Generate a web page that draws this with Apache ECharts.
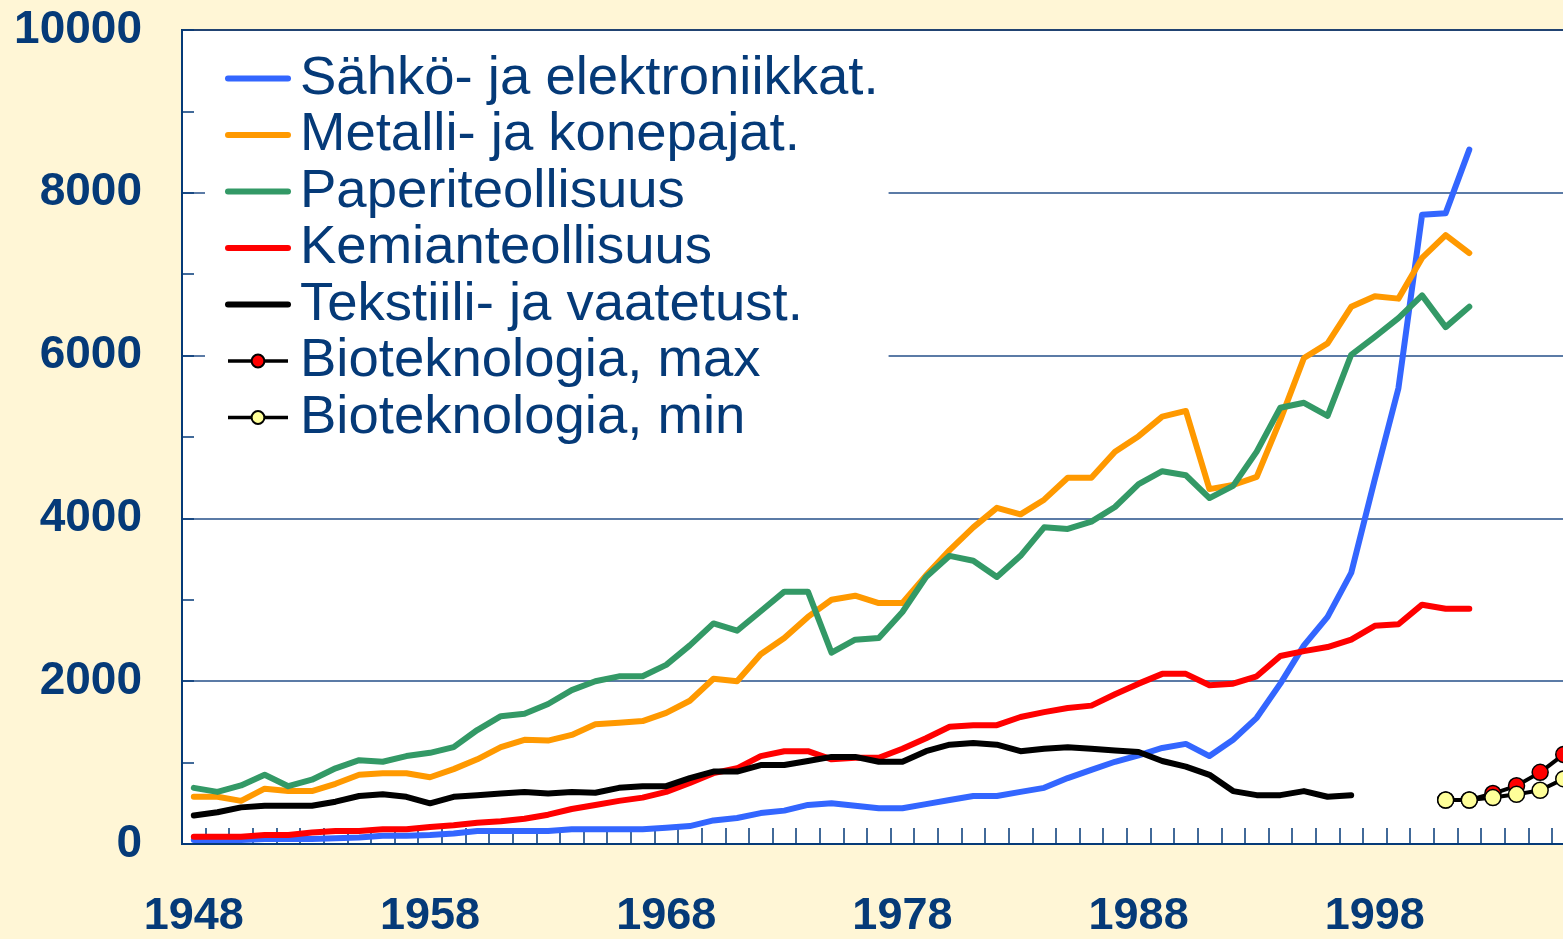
<!DOCTYPE html>
<html>
<head>
<meta charset="utf-8">
<script src="https://cdn.jsdelivr.net/npm/echarts@6/dist/echarts.min.js"></script>
<style>
  html, body { margin: 0; padding: 0; background: #fff6d6; }
  #chart { width: 1563px; height: 939px; }
</style>
</head>
<body>
<div id="chart"></div>
<script>
// years on the category axis (the plot runs past the right edge of the picture)
const years = []
for (let y = 1948; y <= 2007; y++) years.push(String(y))

const sahko = [50, 50, 50, 60, 60, 60, 70, 80, 100, 100,
  110, 130, 160, 160, 160, 160, 180, 180, 180, 180,
  200, 220, 290, 320, 380, 410, 480, 500, 470, 440,
  440, 490, 540, 590, 590, 640, 690, 810, 910, 1010,
  1090, 1180, 1230, 1080, 1280, 1550, 1970, 2440, 2790, 3330,
  4480, 5600, 7730, 7750, 8530]

const metalli = [580, 580, 530, 680, 650, 650, 740, 850, 870, 870,
  820, 920, 1040, 1190, 1280, 1270, 1340, 1470, 1490, 1510,
  1610, 1760, 2030, 2000, 2330, 2530, 2790, 3000, 3050, 2960,
  2960, 3300, 3610, 3890, 4130, 4050, 4230, 4500, 4500, 4820,
  5010, 5250, 5320, 4360, 4410, 4510, 5210, 5970, 6150, 6600,
  6730, 6700, 7200, 7480, 7260]

const paperi = [690, 640, 720, 850, 710, 790, 930, 1030, 1010, 1080,
  1120, 1190, 1400, 1570, 1600, 1720, 1890, 2000, 2060, 2060,
  2200, 2440, 2710, 2620, 2860, 3100, 3100, 2350, 2510, 2530,
  2850, 3280, 3540, 3480, 3280, 3540, 3890, 3870, 3960, 4140,
  4420, 4580, 4530, 4250, 4400, 4820, 5360, 5420, 5260, 6010,
  6230, 6460, 6740, 6350, 6600]

const kemia = [90, 90, 90, 110, 110, 140, 160, 160, 180, 180,
  210, 230, 260, 280, 310, 360, 430, 480, 530, 570,
  640, 750, 870, 930, 1080, 1140, 1140, 1040, 1060, 1060,
  1170, 1300, 1440, 1460, 1460, 1560, 1620, 1670, 1700, 1840,
  1970, 2090, 2090, 1950, 1970, 2060, 2310, 2370, 2420, 2510,
  2680, 2700, 2940, 2890, 2890]

const tekstiili = [350, 390, 450, 470, 470, 470, 520, 590, 610, 580,
  500, 580, 600, 620, 640, 620, 640, 630, 690, 710,
  710, 810, 890, 890, 970, 970, 1020, 1070, 1070, 1010,
  1010, 1140, 1220, 1240, 1220, 1140, 1170, 1190, 1170, 1150,
  1130, 1020, 950, 850, 650, 600, 600, 650, 580, 600]

// biotech starts 2001
const bioMax = [540, 540, 620, 715, 880, 1100]
const bioMin = [540, 540, 570, 610, 660, 800]

const bioStart = years.indexOf('2001')
function padFrom(start, arr) {
  const out = years.map(() => null)
  arr.forEach((v, i) => { out[start + i] = v })
  return out
}

const navy = '#053a78'
const font = '"Liberation Sans", Arial, sans-serif'

function lineSeries(name, data, color) {
  return {
    name, type: 'line', data,
    symbol: 'none',
    lineStyle: { color, width: 6, join: 'round', cap: 'round' },
    itemStyle: { color },
  }
}

function bioSeries(name, data, fill) {
  return {
    name, type: 'line', data: padFrom(bioStart, data),
    symbol: 'circle', symbolSize: 16, showAllSymbol: true,
    lineStyle: { color: '#000', width: 4 },
    itemStyle: { color: fill, borderColor: '#000', borderWidth: 1.5 },
  }
}

// legend entries: plain lines show no dot
function plainLegend(name) {
  return { name, itemStyle: { color: 'rgba(0,0,0,0)', borderWidth: 0, opacity: 0 }, lineStyle: { width: 6, cap: 'round' } }
}
function bioLegend(name) {
  return { name, lineStyle: { width: 3.5 } }
}

const chart = echarts.init(document.getElementById('chart'))
chart.setOption({
  animation: false,
  backgroundColor: '#fff6d6',
  grid: {
    left: 182, top: 30, bottom: 95, width: years.length * 23.62,
    outerBoundsMode: 'none', containLabel: false,
    show: true, backgroundColor: '#fff', borderColor: '#1b2233', borderWidth: 2,
  },
  legend: {
    orient: 'vertical', left: 205, top: 43,
    backgroundColor: '#fff',
    padding: [8, 10, 12, 20],
    itemWidth: 60, itemHeight: 16, itemGap: 1.5,
    textStyle: { fontFamily: font, fontSize: 54.5, color: navy, lineHeight: 50, padding: [0, 0, 0, 7] },
    data: [
      plainLegend('Sähkö- ja elektroniikkat.'),
      plainLegend('Metalli- ja konepajat.'),
      plainLegend('Paperiteollisuus'),
      plainLegend('Kemianteollisuus'),
      plainLegend('Tekstiili- ja vaatetust.'),
      bioLegend('Bioteknologia, max'),
      bioLegend('Bioteknologia, min'),
    ],
  },
  xAxis: {
    type: 'category', data: years, boundaryGap: true,
    axisLine: { lineStyle: { color: navy, width: 2 } },
    axisTick: { show: true, inside: true, length: 16, interval: 0, lineStyle: { color: navy, width: 1.5 } },
    axisLabel: { interval: 9, margin: 50, fontFamily: font, fontWeight: 'bold', fontSize: 45, color: navy },
    splitLine: { show: false },
  },
  yAxis: {
    type: 'value', min: 0, max: 10000, interval: 2000,
    axisLine: { show: true, lineStyle: { color: navy, width: 2 } },
    axisTick: { show: true, inside: true, length: 12, lineStyle: { color: navy, width: 1.5 } },
    minorTick: { show: true, splitNumber: 2, length: 12, lineStyle: { color: navy, width: 1.5 } },
    axisLabel: { margin: 40, fontFamily: font, fontWeight: 'bold', fontSize: 46, color: navy, formatter: (v) => String(v) },
    splitLine: { show: true, lineStyle: { color: '#244f88', width: 1.5 } },
  },
  series: [
    lineSeries('Sähkö- ja elektroniikkat.', sahko, '#3366ff'),
    lineSeries('Metalli- ja konepajat.', metalli, '#ff9900'),
    lineSeries('Paperiteollisuus', paperi, '#339966'),
    lineSeries('Kemianteollisuus', kemia, '#ff0000'),
    lineSeries('Tekstiili- ja vaatetust.', tekstiili, '#000000'),
    bioSeries('Bioteknologia, max', bioMax, '#ff0000'),
    bioSeries('Bioteknologia, min', bioMin, '#ffff99'),
  ],
})
</script>
</body>
</html>
